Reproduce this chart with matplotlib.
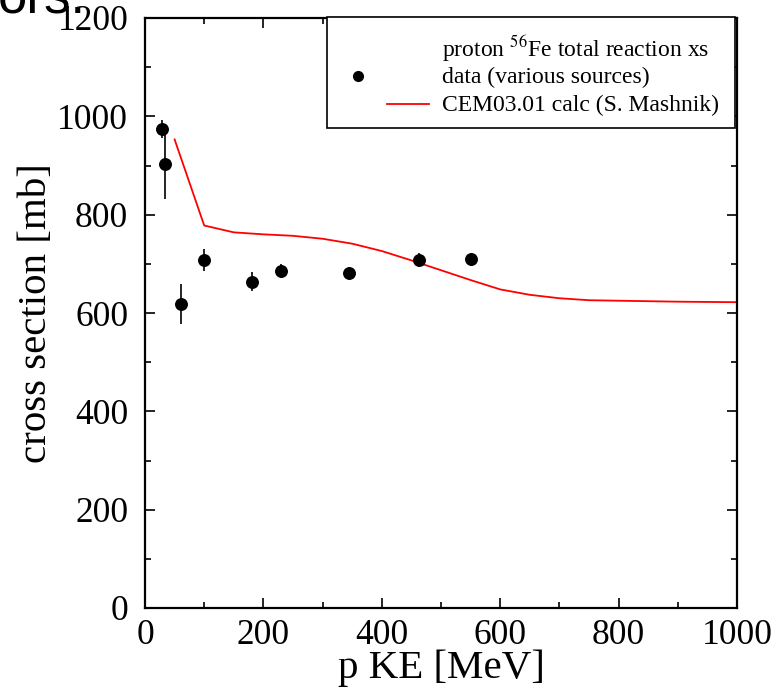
import matplotlib
matplotlib.use("Agg")
import matplotlib.pyplot as plt
from matplotlib.patches import Rectangle
from matplotlib.lines import Line2D
from matplotlib.ticker import MultipleLocator

# Measured proton + 56Fe total reaction cross sections
data_ke = [28, 34, 61, 99, 180, 230, 345, 463, 551]
data_xs = [974, 904, 618, 708, 664, 685, 681, 708, 709]
data_err = [18, 72, 40, 22, 20, 14, 12, 15, 13]

# CEM03.01 calculation
calc_ke = [50, 100, 150, 200, 250, 300, 350, 400, 450, 500, 550, 600,
           650, 700, 750, 800, 900, 1000]
calc_xs = [953, 778, 764, 760, 757, 751, 741, 726, 707, 687, 667, 648,
           637, 630, 626, 625, 623, 622]

W, H = 771, 696
fig = plt.figure(figsize=(W / 100, H / 100), dpi=100)
ax = fig.add_axes([145 / W, 1 - 608 / H, (737 - 145) / W, (608 - 18) / H])

serif = "Liberation Serif"

ax.plot(calc_ke, calc_xs, color="red", lw=1.3, zorder=2)
ax.errorbar(data_ke, data_xs, yerr=data_err, fmt="o", color="black",
            ms=8.3, elinewidth=1.2, capsize=0, zorder=3)

ax.set_xlim(0, 1000)
ax.set_ylim(0, 1200)
ax.xaxis.set_major_locator(MultipleLocator(200))
ax.xaxis.set_minor_locator(MultipleLocator(100))
ax.yaxis.set_major_locator(MultipleLocator(200))
ax.yaxis.set_minor_locator(MultipleLocator(100))
ax.tick_params(which="both", direction="in", top=True, right=True,
               width=1.2, colors="black")
ax.tick_params(which="major", length=7.5)
ax.tick_params(which="minor", length=4)
ax.tick_params(axis="x", labelsize=25.5, pad=8)
ax.tick_params(axis="y", labelsize=25.5, pad=12)
for lab in ax.get_xticklabels() + ax.get_yticklabels():
    lab.set_fontfamily(serif)
for sp in ax.spines.values():
    sp.set_linewidth(1.6)

ax.set_xlabel("p KE [MeV]", fontsize=29.5, fontfamily=serif, labelpad=-2)
ax.set_ylabel("cross section [mb]", fontsize=29.5, fontfamily=serif,
              labelpad=2)

# Legend box
def fx(px):
    return px / W

def fy(py):
    return 1 - py / H

fig.patches.append(Rectangle((fx(327), fy(128)), fx(735) - fx(327),
                             fy(17) - fy(128), transform=fig.transFigure,
                             facecolor="white", edgecolor="black", lw=1.2,
                             zorder=5))
fig.text(fx(442), fy(49), r"proton $^{56}$Fe total reaction xs",
         fontsize=17, fontfamily=serif, va="center", ha="left", zorder=6,
         math_fontfamily="stix")
fig.text(fx(442), fy(77), "data (various sources)", fontsize=17,
         fontfamily=serif, va="center", ha="left", zorder=6)
fig.text(fx(442), fy(105), "CEM03.01 calc (S. Mashnik)", fontsize=17,
         fontfamily=serif, va="center", ha="left", zorder=6)
fig.lines.append(Line2D([fx(358)], [fy(76)], marker="o", ms=7,
                        color="black", transform=fig.transFigure, zorder=6))
fig.lines.append(Line2D([fx(387), fx(429)], [fy(104), fy(104)], lw=1.3,
                        color="red", transform=fig.transFigure, zorder=6))

# Title text clipped at the top edge of the canvas
fig.text(fx(-2), fy(14), "ors.", fontsize=38, fontfamily="Liberation Sans",
         ha="left", va="baseline")

fig.savefig("out.png", dpi=100)
